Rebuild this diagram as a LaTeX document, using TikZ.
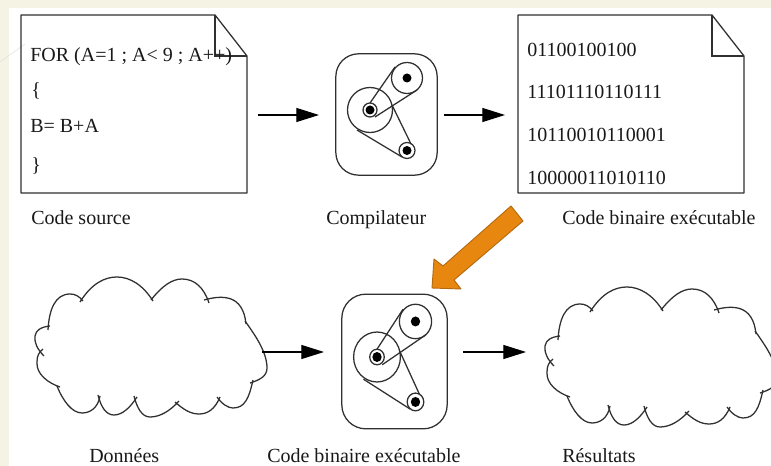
\documentclass[tikz,border=0pt]{standalone}
\usepackage{fontspec}
\setmainfont{Liberation Serif}
\usetikzlibrary{arrows.meta}
\definecolor{slidecream}{HTML}{F5F3E4}
\definecolor{ink}{HTML}{303030}
\definecolor{orangefill}{HTML}{E8870F}
\definecolor{orangeline}{HTML}{B56A10}
\tikzset{
  lab/.style={anchor=base west, inner sep=0, font=\fontsize{15}{18}\selectfont, text=black!90},
  ln/.style={draw=ink, line width=0.95pt},
  flow/.style={draw=black, line width=0.9pt, -{Triangle[length=17pt,width=10.5pt]}},
  doc/.pic={
    \draw[ln, line join=round] (0,0) -- (194,0) -- (226,41) -- (226,178) -- (0,178) -- cycle;
    \draw[ln] (194,0) -- (194,41) -- (226,41);
  },
  gears/.pic={
    \draw[ln] (0,0) circle (22.5);
    \draw[ln] (0,0) circle (7);
    \fill[black] (0,0) circle (4.5);
    \draw[ln] (37,-32) circle (15.5);
    \fill[black] (37,-32) circle (4.5);
    \draw[ln] (37,40.5) circle (8);
    \fill[black] (37,40.5) circle (4.5);
    \draw[ln] (0,-7) -- (25,-43);
    \draw[ln] (5,7) -- (47,-20);
    \draw[ln] (22,-5) -- (41,34);
    \draw[ln] (-13,20) -- (32,47);
  },
  cloud/.pic={
    \draw[ln] (80,302) .. controls (92,283) and (105,277) .. (117,277) .. controls (130,277) and (143,285) .. (153,301);
    \draw[ln] (151,300) .. controls (162,286) and (172,279) .. (182,279) .. controls (195,279) and (204,288) .. (209,303);
    \draw[ln] (204,300) .. controls (222,295) and (243,294) .. (246,324);
    \draw[ln] (245,321) .. controls (255,335) and (267,352) .. (267,368) .. controls (267,376) and (260,380) .. (250,383);
    \draw[ln] (253,380) .. controls (249,398) and (245,408) .. (233,408) .. controls (228,408) and (222,404) .. (217,397);
    \draw[ln] (220,397) .. controls (215,409) and (208,414) .. (199,414) .. controls (190,414) and (183,409) .. (175,402);
    \draw[ln] (179,401) .. controls (170,411) and (160,417) .. (150,417) .. controls (142,417) and (137,408) .. (134,396);
    \draw[ln] (137,397) .. controls (130,408) and (122,415) .. (114,415) .. controls (106,415) and (101,407) .. (98,395);
    \draw[ln] (100,396) .. controls (98,408) and (90,413) .. (82,413) .. controls (72,413) and (63,401) .. (57,386);
    \draw[ln] (60,387) .. controls (48,383) and (36,374) .. (37,362) .. controls (37,356) and (39,352) .. (43,349);
    \draw[ln] (44,356) .. controls (38,350) and (34,343) .. (35,336) .. controls (36,330) and (41,327) .. (50,326);
    \draw[ln] (48,330) .. controls (49,310) and (55,294) .. (70,294) .. controls (75,294) and (79,296) .. (83,301);
  }
}
\begin{document}
\begin{tikzpicture}[x=0.75pt,y=-0.75pt]
\clip (0,0) rectangle (771,466);
\fill[slidecream] (0,0) rectangle (771,466);
\fill[white] (9,8) rectangle (771,466);
\draw[black!12, line width=0.4pt] (0,62) -- (25,44);
% documents
\pic at (21,15) {doc};
\pic at (518,15) {doc};
\node[lab] (forline) at (30,62) {FOR (A=1 ; A< 9 ; A++)};
\node[lab] (openbrace) at (31,97) {\{};
\node[lab] (sumline) at (30,133) {B= B+A};
\node[lab] (closebrace) at (31,172) {\}};
\node[lab] (binone) at (527,57) {01100100100};
\node[lab] (bintwo) at (527,99) {11101110110111};
\node[lab] (binthree) at (527,142) {10110010110001};
\node[lab] (binfour) at (527,185) {10000011010110};
% compilers
\node[ln, rounded corners=17, minimum width=76pt, minimum height=91pt, inner sep=0] (compbox) at (386.5,114.5) {};
\pic at (370,110) {gears};
\node[ln, rounded corners=18, minimum width=79pt, minimum height=101pt, inner sep=0] (runbox) at (394.5,361.5) {};
\pic[xscale=1.04, yscale=1.11] at (377,357) {gears};
% clouds
\pic at (0,0) {cloud};
\pic at (510,10) {cloud};
% orange arrow
\filldraw[fill=orangefill, draw=orangeline, line width=0.7pt, line join=round]
  (511,206) -- (523,221) -- (454,280) -- (461,289) -- (432,288) -- (434,259) -- (443,266) -- cycle;
% arrows
\coordinate (srcout) at (258,115);
\coordinate (compin) at (319,115);
\coordinate (compout) at (444,115);
\coordinate (binin) at (505,115);
\coordinate (dataout) at (262,352);
\coordinate (runin) at (324,352);
\coordinate (runout) at (463,352);
\coordinate (resin) at (526,352);
\draw[flow] (srcout) -- (compin);
\draw[flow] (compout) -- (binin);
\draw[flow] (dataout) -- (runin);
\draw[flow] (runout) -- (resin);
% labels
\node[lab] (srclab) at (31,225) {Code source};
\node[lab] (complab) at (326,225) {Compilateur};
\node[lab] (binlab) at (562,225) {Code binaire exécutable};
\node[lab] (datalab) at (89,462) {Données};
\node[lab] (runlab) at (267,462) {Code binaire exécutable};
\node[lab] (reslab) at (562,462) {Résultats};
\end{tikzpicture}
\end{document}
